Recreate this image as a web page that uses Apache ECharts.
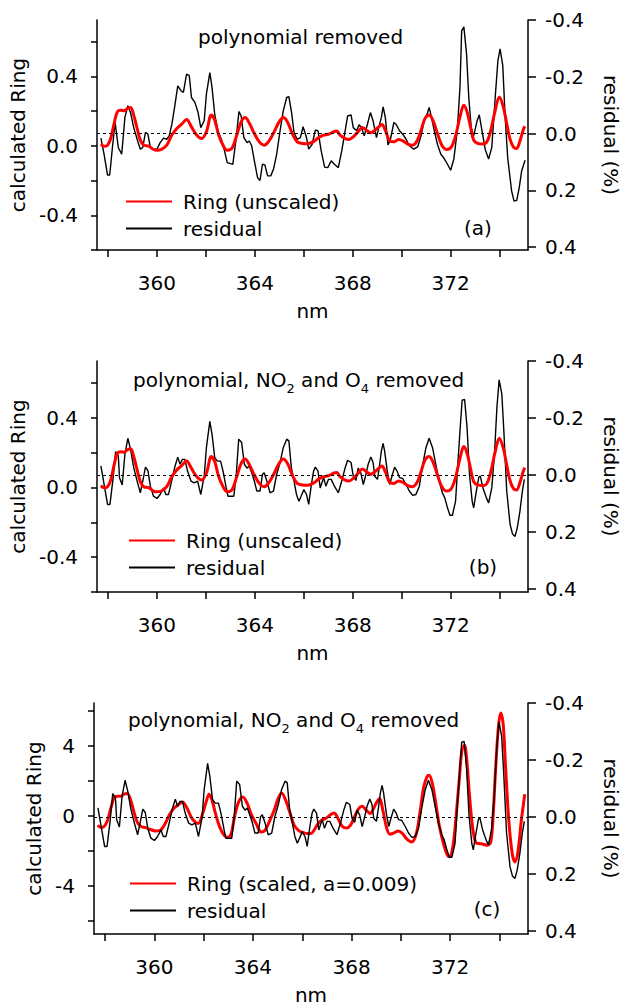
<!DOCTYPE html>
<html><head><meta charset="utf-8">
<script src="https://cdn.jsdelivr.net/npm/echarts@6/dist/echarts.min.js"></script>
<style>html,body{margin:0;padding:0;background:#fff}#c{width:629px;height:1006px}</style>
</head><body><div id="c"></div>
<script>
const FONT = '"DejaVu Sans", sans-serif';

// ---- tick / label values ----
const xTickVals = [358, 360, 362, 364, 366, 368, 370, 372, 374];
const xLabelVals = [360, 364, 368, 372];
const ringTickAB = [-0.6, -0.4, -0.2, 0, 0.2, 0.4, 0.6];
const ringLabelAB = [-0.4, 0, 0.4];
const ringTickC = [-6, -4, -2, 0, 2, 4, 6];
const ringLabelC = [-4, 0, 4];
const resTicks = [-0.4, -0.2, 0, 0.2, 0.4];

// ---- panel (a) residual, polynomial removed ----
const resA_nm = [357.71,357.84,357.98,358.07,358.18,358.29,358.42,358.56,358.69,358.81,358.92,359.05,359.19,359.32,359.42,359.53,359.63,359.73,359.86,360.00,360.13,360.27,360.40,360.50,360.61,360.74,360.85,360.98,361.08,361.21,361.32,361.41,361.55,361.68,361.79,361.93,362.02,362.16,362.25,362.36,362.49,362.63,362.76,362.87,363.01,363.10,363.24,363.35,363.44,363.55,363.68,363.77,363.87,363.98,364.11,364.21,364.31,364.41,364.52,364.65,364.76,364.89,365.03,365.16,365.30,365.39,365.50,365.60,365.73,365.86,365.97,366.11,366.20,366.34,366.47,366.58,366.71,366.85,366.98,367.12,367.25,367.41,367.55,367.69,367.79,367.93,368.02,368.16,368.26,368.36,368.47,368.60,368.72,368.83,368.97,369.06,369.17,369.24,369.33,369.44,369.54,369.68,369.77,369.91,370.04,370.18,370.31,370.49,370.65,370.79,370.92,371.06,371.12,371.22,371.33,371.46,371.60,371.73,371.87,372.00,372.13,372.27,372.38,372.45,372.54,372.65,372.74,372.84,372.94,373.08,373.17,373.28,373.41,373.55,373.68,373.82,373.93,374.02,374.13,374.22,374.33,374.49,374.59,374.70,374.80,374.90,375.04];
const resA = [0.016,0.073,0.146,0.146,0.049,-0.039,0.049,0.073,-0.057,-0.098,-0.074,-0.021,0.020,0.055,0.049,-0.004,0.002,0.049,0.055,0.055,0.032,0.016,0.020,0.008,-0.033,-0.104,-0.168,-0.151,-0.145,-0.209,-0.204,-0.127,-0.110,-0.074,-0.021,-0.045,-0.139,-0.215,-0.162,-0.068,-0.010,0.020,0.061,0.102,0.106,0.108,0.014,-0.078,-0.062,0.014,0.032,0.026,0.043,0.096,0.155,0.165,0.108,0.110,0.149,0.149,0.126,0.073,-0.010,-0.080,-0.127,-0.130,-0.074,-0.004,0.020,0.014,-0.024,0.014,0.055,0.038,-0.012,-0.010,0.061,0.118,0.120,0.096,0.108,0.120,0.061,-0.010,-0.062,-0.066,-0.021,-0.010,-0.031,-0.021,0.008,-0.033,-0.074,-0.045,0.014,-0.021,-0.057,-0.094,-0.057,0.040,0.020,-0.039,-0.033,-0.010,0.002,0.020,0.043,0.055,0.047,0.008,-0.045,-0.074,-0.092,-0.057,-0.010,0.038,0.073,0.087,0.108,0.129,0.090,-0.010,-0.162,-0.362,-0.376,-0.280,-0.127,-0.021,0.008,-0.045,-0.066,-0.010,0.055,0.090,0.049,-0.127,-0.257,-0.298,-0.239,-0.068,0.085,0.202,0.238,0.235,0.191,0.132,0.094];

// ---- panels (b),(c) residual, polynomial, NO2 and O4 removed ----
const resBC_nm = [357.71,357.84,357.98,358.08,358.21,358.31,358.42,358.47,358.58,358.69,358.81,358.92,359.05,359.19,359.32,359.42,359.53,359.63,359.73,359.86,360.00,360.13,360.27,360.36,360.47,360.60,360.74,360.85,360.94,361.04,361.14,361.25,361.39,361.52,361.66,361.79,361.93,362.02,362.16,362.25,362.36,362.47,362.60,362.70,362.83,362.90,363.03,363.14,363.24,363.34,363.46,363.57,363.68,363.77,363.87,363.98,364.08,364.21,364.31,364.38,364.49,364.62,364.76,364.89,365.03,365.16,365.30,365.39,365.49,365.60,365.70,365.80,365.89,366.00,366.11,366.20,366.31,366.40,366.47,366.58,366.67,366.81,366.90,367.01,367.12,367.25,367.41,367.55,367.69,367.79,367.93,368.02,368.13,368.22,368.33,368.43,368.52,368.63,368.74,368.83,368.90,369.01,369.10,369.17,369.24,369.30,369.41,369.51,369.60,369.71,369.81,369.91,370.04,370.18,370.31,370.45,370.58,370.72,370.85,370.99,371.12,371.26,371.39,371.53,371.66,371.76,371.87,371.97,372.07,372.20,372.30,372.40,372.47,372.57,372.67,372.77,372.88,372.94,373.05,373.15,373.21,373.32,373.46,373.55,373.68,373.79,373.89,373.98,374.09,374.18,374.29,374.43,374.53,374.63,374.72,374.83,374.93,375.01];
const resBC = [-0.032,0.033,0.103,0.103,0.009,-0.082,-0.067,0.009,0.035,-0.073,-0.129,-0.091,-0.026,0.021,0.062,0.021,-0.028,-0.016,0.039,0.074,0.082,0.068,0.045,0.068,0.068,0.021,-0.032,-0.063,-0.038,-0.055,-0.055,-0.014,0.021,0.027,0.021,0.068,0.004,-0.096,-0.188,-0.143,-0.061,-0.049,-0.049,-0.014,0.045,0.074,0.074,0.074,-0.002,-0.126,-0.114,-0.038,-0.024,-0.032,-0.008,0.021,0.056,0.056,-0.002,-0.008,0.021,0.062,0.056,-0.002,-0.044,-0.096,-0.126,-0.120,-0.026,0.021,0.068,0.092,0.074,0.051,0.068,0.103,0.033,-0.014,-0.028,-0.014,0.045,0.009,0.039,0.015,0.015,0.039,0.062,0.021,-0.026,-0.052,-0.044,0.004,0.019,-0.024,-0.008,0.033,0.004,-0.038,-0.063,-0.044,0.004,0.015,-0.038,-0.085,-0.111,-0.085,-0.014,0.033,0.004,-0.028,-0.014,0.009,0.012,0.033,0.056,0.071,0.068,0.039,-0.032,-0.096,-0.129,-0.096,-0.038,0.021,0.062,0.080,0.115,0.141,0.141,0.092,-0.049,-0.179,-0.263,-0.265,-0.167,-0.002,0.092,0.115,0.056,0.007,0.004,0.045,0.080,0.098,0.045,-0.073,-0.238,-0.334,-0.285,-0.143,0.056,0.174,0.207,0.215,0.186,0.127,0.056,0.015];

// ---- calculated Ring, unscaled (panels a, b) ----
const ringU_nm = [357.71,357.84,357.98,358.11,358.25,358.38,358.52,358.65,358.79,358.92,359.05,359.19,359.32,359.46,359.66,359.86,360.00,360.20,360.40,360.61,360.81,361.01,361.21,361.41,361.62,361.82,362.02,362.22,362.36,362.52,362.70,362.87,363.06,363.24,363.44,363.60,363.78,363.98,364.18,364.38,364.58,364.79,364.99,365.16,365.33,365.53,365.73,365.94,366.14,366.40,366.61,366.81,367.01,367.21,367.35,367.48,367.69,367.85,368.02,368.22,368.39,368.56,368.74,368.90,369.06,369.19,369.33,369.51,369.68,369.87,370.05,370.25,370.45,370.63,370.79,370.95,371.12,371.30,371.46,371.64,371.84,372.03,372.21,372.38,372.54,372.67,372.81,372.94,373.10,373.32,373.48,373.64,373.82,373.99,374.15,374.29,374.42,374.56,374.69,374.82,374.96,375.03];
const ringU = [0.010,-0.002,0.004,0.042,0.129,0.196,0.205,0.202,0.215,0.221,0.177,0.100,0.033,0.004,-0.002,-0.021,-0.025,-0.019,0.004,0.062,0.100,0.125,0.152,0.109,0.062,0.042,0.081,0.177,0.148,0.062,0.004,-0.025,-0.015,0.052,0.138,0.163,0.129,0.071,0.023,0.004,0.029,0.081,0.138,0.163,0.138,0.071,0.023,0.014,0.012,0.025,0.048,0.062,0.067,0.081,0.085,0.062,0.042,0.037,0.052,0.081,0.106,0.090,0.075,0.090,0.109,0.123,0.090,0.029,0.023,0.037,0.029,0.010,0.004,0.029,0.090,0.157,0.177,0.138,0.071,0.004,-0.021,-0.006,0.062,0.167,0.234,0.196,0.110,0.033,0.014,0.010,0.023,0.090,0.205,0.282,0.225,0.129,0.042,-0.006,-0.015,0.023,0.090,0.113];

// ---- calculated Ring, scaled a=0.009 (panel c) ----
const ringS_nm = [357.70,357.83,357.97,358.10,358.23,358.37,358.50,358.64,358.77,358.90,359.04,359.17,359.30,359.44,359.64,359.84,360.04,360.24,360.44,360.60,360.78,360.95,361.14,361.31,361.49,361.65,361.78,361.94,362.12,362.22,362.34,362.48,362.65,362.83,362.99,363.12,363.25,363.42,363.59,363.77,363.92,364.13,364.33,364.49,364.66,364.86,365.02,365.16,365.33,365.51,365.67,365.87,366.07,366.22,366.35,366.48,366.62,366.78,366.95,367.12,367.29,367.45,367.62,367.80,367.96,368.12,368.29,368.43,368.60,368.76,368.89,369.03,369.14,369.27,369.43,369.56,369.72,369.90,370.07,370.23,370.43,370.61,370.77,370.93,371.06,371.14,371.28,371.44,371.57,371.73,371.87,371.97,372.11,372.24,372.38,372.48,372.58,372.67,372.78,372.91,373.05,373.18,373.34,373.51,373.65,373.75,373.85,373.96,374.05,374.15,374.25,374.38,374.52,374.63,374.76,374.89,375.03];
const ringS = [-0.51,-0.65,-0.57,-0.23,0.44,1.07,1.14,1.14,1.26,1.30,0.91,0.25,-0.32,-0.57,-0.65,-0.76,-0.84,-0.80,-0.42,0.06,0.44,0.63,0.82,0.50,-0.04,-0.32,-0.42,0.06,0.91,1.26,0.91,0.15,-0.61,-1.09,-1.22,-0.99,-0.04,0.82,1.10,0.72,0.15,-0.42,-0.90,-0.80,-0.32,0.34,1.01,1.33,0.91,0.15,-0.51,-0.84,-0.95,-0.99,-0.99,-0.80,-0.46,-0.23,-0.13,0.06,0.19,-0.13,-0.57,-0.67,-0.51,-0.04,0.44,0.57,0.34,0.15,0.44,0.82,1.01,0.34,-0.70,-1.03,-0.95,-0.84,-0.99,-1.28,-1.47,-1.09,0.15,1.68,2.25,2.34,1.87,0.53,-0.61,-1.56,-2.17,-2.32,-1.75,-0.04,2.25,3.77,4.06,3.30,1.30,-0.61,-1.52,-1.56,-1.60,-1.66,-1.47,0.15,2.82,5.10,5.90,5.30,2.82,-0.23,-2.13,-2.61,-1.94,-0.23,1.26];

const pairs = (xs, ys) => xs.map((x, i) => [x, ys[i]]);

const BLACK = '#000';
const txt = { fontSize: 20, color: BLACK, fontFamily: FONT };
const axLine = { show: true, onZero: false, lineStyle: { color: BLACK, width: 1.5 } };

const grids = [
  { left: 97, top: 20, width: 435, height: 230 },
  { left: 97, top: 361, width: 435, height: 231 },
  { left: 94, top: 703, width: 438, height: 231 }
];

const xAxes = grids.map((g, i) => ({
  gridIndex: i, type: 'value', min: 357.55, max: 375.16,
  axisLine: axLine,
  axisTick: { show: true, customValues: xTickVals, length: 7, lineStyle: { color: BLACK, width: 1.5 } },
  axisLabel: Object.assign({ customValues: xLabelVals, margin: 23 }, txt),
  splitLine: { show: false },
  name: 'nm', nameLocation: 'middle', nameGap: 51, nameTextStyle: txt
}));

function leftAxis(i, min, max, ticks, labels, fmt, gap) {
  return {
    gridIndex: i, type: 'value', position: 'left', min: min, max: max,
    axisLine: axLine,
    axisTick: { show: true, customValues: ticks, length: 6, lineStyle: { color: BLACK, width: 1.5 } },
    axisLabel: Object.assign({ customValues: labels, margin: 19, formatter: fmt }, txt),
    splitLine: { show: false },
    name: 'calculated Ring', nameLocation: 'middle', nameRotate: 90, nameGap: gap, nameTextStyle: txt
  };
}
function rightAxis(i) {
  return {
    gridIndex: i, type: 'value', position: 'right', inverse: true, min: -0.4, max: 0.41,
    axisLine: axLine,
    axisTick: { show: true, customValues: resTicks, length: 8, lineStyle: { color: BLACK, width: 1.5 } },
    axisLabel: Object.assign({ customValues: resTicks, margin: 17, formatter: v => v.toFixed(1) }, txt),
    splitLine: { show: false },
    name: 'residual (%)', nameLocation: 'middle', nameRotate: -90, nameGap: 73, nameTextStyle: txt
  };
}
const f1 = v => Number(v).toFixed(1);
const f0 = v => String(Math.round(v));
const yAxes = [
  leftAxis(0, -0.6, 0.725, ringTickAB, ringLabelAB, f1, 63), rightAxis(0),
  leftAxis(1, -0.6, 0.725, ringTickAB, ringLabelAB, f1, 63), rightAxis(1),
  leftAxis(2, -6.73, 6.47, ringTickC, ringLabelC, f0, 50), rightAxis(2)
];

const zeroLine = {
  silent: true, symbol: ['none', 'none'], label: { show: false },
  lineStyle: { type: [3, 3], color: BLACK, width: 1 },
  emphasis: { disabled: true },
  data: [{ yAxis: 0 }]
};
function resSeries(i, xs, ys, z) {
  return { name: 'residual', type: 'line', xAxisIndex: i, yAxisIndex: 2 * i + 1,
    data: pairs(xs, ys), symbol: 'none', z: z,
    lineStyle: { color: BLACK, width: 1.4 }, itemStyle: { color: BLACK },
    markLine: zeroLine };
}
function ringSeries(i, name, xs, ys, z) {
  return { name: name, type: 'line', xAxisIndex: i, yAxisIndex: 2 * i,
    data: pairs(xs, ys), symbol: 'none', smooth: 0.35, z: z,
    lineStyle: { color: '#ff0000', width: 3 }, itemStyle: { color: '#ff0000' } };
}

const series = [
  resSeries(0, resA_nm, resA, 2), ringSeries(0, 'Ring (unscaled)', ringU_nm, ringU, 3),
  resSeries(1, resBC_nm, resBC, 2), ringSeries(1, 'Ring (unscaled)', ringU_nm, ringU, 3),
  ringSeries(2, 'Ring (scaled, a=0.009)', ringS_nm, ringS, 2), resSeries(2, resBC_nm, resBC, 3)
];

function legendAt(left, top, names) {
  return { left: left, top: top, orient: 'vertical', padding: 0, itemGap: 0,
    itemWidth: 46, itemHeight: 27, selectedMode: false, data: names,
    itemStyle: { opacity: 0, borderWidth: 0 },
    textStyle: Object.assign({ lineHeight: 27, padding: [0, 0, 0, 6] }, txt) };
}

const richSub = { sub: { fontSize: 13, lineHeight: 13, padding: [16, 0, 0, 0], fill: BLACK, fontFamily: FONT } };
function label(x, y, text, align, rich) {
  return { type: 'text', x: x, y: y, silent: true,
    style: { text: text, fill: BLACK, font: '20px ' + FONT, fontSize: 20, fontFamily: FONT,
      lineHeight: 22, align: align, verticalAlign: 'middle',
      textAlign: align, textVerticalAlign: 'middle', rich: rich || {} } };
}

const chart = echarts.init(document.getElementById('c'), null, { renderer: 'svg' });
chart.setOption({
  animation: false,
  backgroundColor: '#fff',
  textStyle: { fontFamily: FONT },
  grid: grids,
  xAxis: xAxes,
  yAxis: yAxes,
  legend: [
    legendAt(125, 188, ['Ring (unscaled)', 'residual']),
    legendAt(128, 527, ['Ring (unscaled)', 'residual']),
    legendAt(129, 870, ['Ring (scaled, a=0.009)', 'residual'])
  ],
  graphic: [
    label(198, 37, 'polynomial removed', 'left'),
    label(133, 380, 'polynomial, NO{sub|2} and O{sub|4} removed', 'left', richSub),
    label(128, 720, 'polynomial, NO{sub|2} and O{sub|4} removed', 'left', richSub),
    label(478, 228, '(a)', 'center'),
    label(483, 567, '(b)', 'center'),
    label(487, 909, '(c)', 'center')
  ],
  series: series
});
</script></body></html>
